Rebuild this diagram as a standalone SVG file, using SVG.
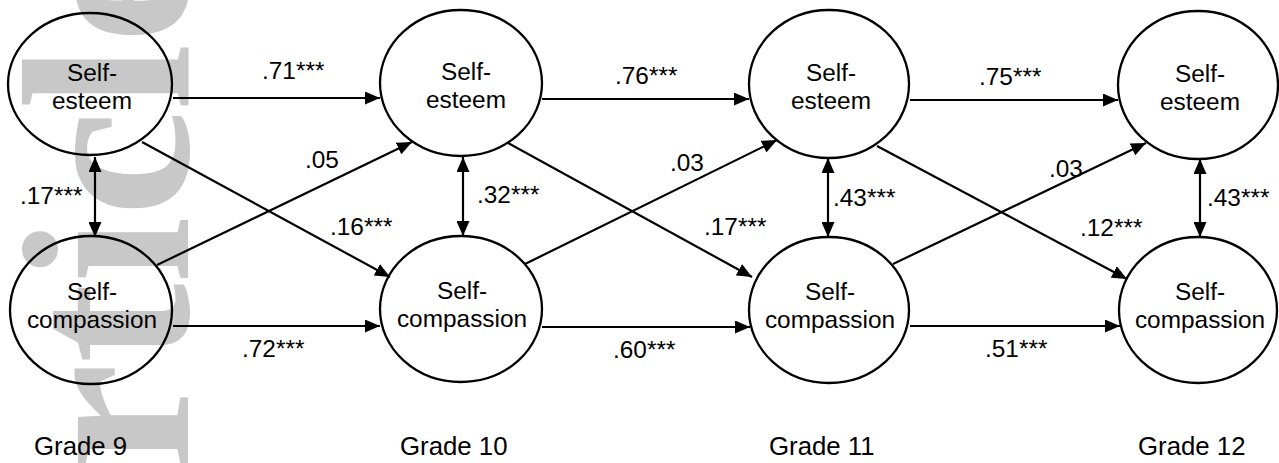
<svg xmlns="http://www.w3.org/2000/svg" width="1279" height="463" viewBox="0 0 1279 463">
<defs>
<marker id="ah" viewBox="0 0 15 13" refX="15" refY="6.5" markerWidth="15" markerHeight="13" markerUnits="userSpaceOnUse" orient="auto-start-reverse"><path d="M0,0 L15,6.5 L0,13 Z" fill="#000"/></marker>
<style>
.n{fill:none;stroke:#000;stroke-width:2.3}
.t{font-family:"Liberation Sans",Arial,sans-serif;font-size:24.4px;fill:#000}
.g{font-size:25.8px}
.m{text-anchor:middle}
.c line{stroke:#000;stroke-width:2.2;marker-end:url(#ah)}
.c line.d{marker-start:url(#ah)}
.wm{font-family:"Liberation Serif","Times New Roman",serif;font-weight:bold;font-size:240px;fill:#c8c8c8}
</style>
</defs>
<rect width="1279" height="463" fill="#fff"/>
<text class="wm" transform="translate(188,643) rotate(-90)">Article</text>
<g id="connectors" class="c">
<line x1="173" y1="98" x2="380" y2="98"/>
<line x1="542" y1="99" x2="749" y2="99"/>
<line x1="910" y1="100" x2="1118" y2="100"/>
<line x1="173" y1="326" x2="380" y2="326"/>
<line x1="542" y1="327" x2="750" y2="327"/>
<line x1="910" y1="326" x2="1120" y2="326"/>
<line x1="142" y1="142" x2="390" y2="277"/>
<line x1="157" y1="265" x2="412" y2="142"/>
<line x1="508" y1="143" x2="752" y2="277"/>
<line x1="525" y1="264" x2="777" y2="140"/>
<line x1="877" y1="146" x2="1127" y2="279"/>
<line x1="893" y1="264" x2="1146" y2="143"/>
<line class="d" x1="95" y1="157" x2="95" y2="237"/>
<line class="d" x1="463" y1="157" x2="463" y2="236"/>
<line class="d" x1="828" y1="158" x2="828" y2="237"/>
<line class="d" x1="1200" y1="159" x2="1200" y2="237"/>
</g>
<g id="se9"><ellipse class="n" cx="90" cy="84" rx="82" ry="71"/><text class="t m" x="92" y="81">Self-</text><text class="t m" x="92" y="109">esteem</text></g>
<g id="sc9"><ellipse class="n" cx="91" cy="310" rx="81" ry="74"/><text class="t m" x="92" y="300">Self-</text><text class="t m" x="92" y="328">compassion</text></g>
<g id="se10"><ellipse class="n" cx="461" cy="83" rx="81" ry="73"/><text class="t m" x="466" y="80">Self-</text><text class="t m" x="466" y="108">esteem</text></g>
<g id="sc10"><ellipse class="n" cx="461" cy="309" rx="81" ry="73"/><text class="t m" x="462" y="299">Self-</text><text class="t m" x="462" y="327">compassion</text></g>
<g id="se11"><ellipse class="n" cx="829" cy="84" rx="80" ry="74"/><text class="t m" x="831" y="81">Self-</text><text class="t m" x="831" y="109">esteem</text></g>
<g id="sc11"><ellipse class="n" cx="829" cy="310" rx="80" ry="73"/><text class="t m" x="830" y="300">Self-</text><text class="t m" x="830" y="328">compassion</text></g>
<g id="se12"><ellipse class="n" cx="1198" cy="85" rx="80" ry="74"/><text class="t m" x="1200" y="82">Self-</text><text class="t m" x="1200" y="110">esteem</text></g>
<g id="sc12"><ellipse class="n" cx="1198" cy="310" rx="79" ry="73"/><text class="t m" x="1200" y="300">Self-</text><text class="t m" x="1200" y="328">compassion</text></g>
<g id="labels">
<text class="t" x="262" y="79">.71***</text>
<text class="t" x="615" y="84">.76***</text>
<text class="t" x="979" y="85">.75***</text>
<text class="t" x="305" y="168">.05</text>
<text class="t" x="670" y="171">.03</text>
<text class="t" x="1049" y="177">.03</text>
<text class="t" x="20" y="204">.17***</text>
<text class="t" x="477" y="203">.32***</text>
<text class="t" x="833" y="206">.43***</text>
<text class="t" x="1207" y="206">.43***</text>
<text class="t" x="330" y="235">.16***</text>
<text class="t" x="704" y="235">.17***</text>
<text class="t" x="1080" y="236">.12***</text>
<text class="t" x="242" y="357">.72***</text>
<text class="t" x="613" y="358">.60***</text>
<text class="t" x="985" y="357">.51***</text>
<text class="t g" x="34" y="455">Grade 9</text>
<text class="t g" x="400" y="455">Grade 10</text>
<text class="t g" x="769" y="455">Grade 11</text>
<text class="t g" x="1138" y="455">Grade 12</text>
</g>
</svg>
